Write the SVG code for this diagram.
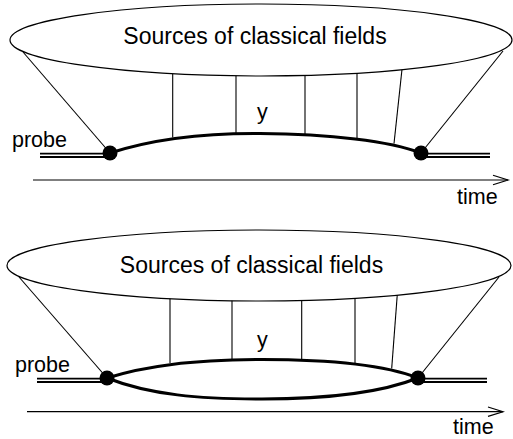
<svg xmlns="http://www.w3.org/2000/svg" width="513" height="439" viewBox="0 0 513 439">
  <style>
    .thin { stroke: #000; stroke-width: 1.1; fill: none; }
    .world { stroke: #000; stroke-width: 3; fill: none; }
    .src { stroke: #000; stroke-width: 1.2; fill: #fff; }
    .probeOut { stroke: #000; stroke-width: 5.2; fill: none; }
    .probeIn { stroke: #fff; stroke-width: 1.6; fill: none; }
    .axis { stroke: #000; stroke-width: 1.2; fill: none; }
    .vertex { fill: #000; }
    text { font-family: "Liberation Sans", Arial, sans-serif; fill: #000; }
    .title { font-size: 23px; text-anchor: middle; }
    .lbl { font-size: 21.5px; }
  </style>
  <defs>
    <marker id="openArrow" markerWidth="18" markerHeight="12" refX="16" refY="6" orient="auto" markerUnits="userSpaceOnUse">
      <path d="M1,1.3 L16,6 L1,10.7" fill="none" stroke="#000" stroke-width="1.2"/>
    </marker>
  </defs>

  <!-- Upper diagram: single probe line dressed by classical fields -->
  <g id="connectors-top">
    <line class="thin" x1="23" y1="52" x2="110" y2="153"/>
    <line class="thin" x1="503" y1="51" x2="421" y2="153"/>
    <line class="thin" x1="172.7" y1="60" x2="172.7" y2="137.5"/>
    <line class="thin" x1="236" y1="60" x2="236" y2="134.5"/>
    <line class="thin" x1="305" y1="60" x2="305" y2="134.5"/>
    <line class="thin" x1="357" y1="60" x2="357" y2="138.5"/>
    <line class="thin" x1="403" y1="60" x2="394" y2="143.5"/>
    <path class="world" d="M110,153 C150,140 200,133 260,133.5 C330,134 390,141 421,153"/>
    <line class="probeOut" x1="40" y1="155.3" x2="110" y2="155.3"/>
    <line class="probeIn" x1="40" y1="155.3" x2="110" y2="155.3"/>
    <line class="probeOut" x1="421" y1="155.3" x2="490" y2="155.3"/>
    <line class="probeIn" x1="421" y1="155.3" x2="490" y2="155.3"/>
    <line class="axis" x1="33" y1="180" x2="508" y2="180" marker-end="url(#openArrow)"/>
  </g>
  <g id="sources-top">
    <ellipse class="src" cx="261" cy="40" rx="251" ry="36"/>
    <text class="title" x="255" y="43.5">Sources of classical fields</text>
  </g>
  <g id="vertex-top-left"><circle class="vertex" cx="110" cy="153" r="7.5"/></g>
  <g id="vertex-top-right"><circle class="vertex" cx="421" cy="153" r="7.5"/></g>
  <g id="labels-top">
    <text class="lbl" x="12" y="147">probe</text>
    <text class="lbl" x="257" y="119">y</text>
    <text class="lbl" x="457" y="204">time</text>
  </g>

  <!-- Lower diagram: probe splits into two paths between the vertices -->
  <g id="connectors-bottom">
    <line class="thin" x1="19" y1="277" x2="107" y2="378"/>
    <line class="thin" x1="499" y1="277" x2="418" y2="378"/>
    <line class="thin" x1="170" y1="285" x2="170" y2="363"/>
    <line class="thin" x1="232" y1="285" x2="232" y2="360.5"/>
    <line class="thin" x1="301.7" y1="285" x2="301.7" y2="360"/>
    <line class="thin" x1="355" y1="285" x2="355" y2="364"/>
    <line class="thin" x1="398" y1="285" x2="391.7" y2="368.5"/>
    <path class="world" d="M107,378 C145,366 190,360 262,359.5 C330,359.5 385,365 418,378"/>
    <path class="world" d="M107,378 C150,395 200,399 262,399 C330,399 380,393 418,378"/>
    <line class="probeOut" x1="37" y1="380.3" x2="107" y2="380.3"/>
    <line class="probeIn" x1="37" y1="380.3" x2="107" y2="380.3"/>
    <line class="probeOut" x1="418" y1="380.3" x2="487" y2="380.3"/>
    <line class="probeIn" x1="418" y1="380.3" x2="487" y2="380.3"/>
    <line class="axis" x1="27" y1="411.7" x2="503" y2="411.7" marker-end="url(#openArrow)"/>
  </g>
  <g id="sources-bottom">
    <ellipse class="src" cx="259" cy="265.5" rx="252" ry="35.5"/>
    <text class="title" x="251.5" y="273">Sources of classical fields</text>
  </g>
  <g id="vertex-bottom-left"><circle class="vertex" cx="107" cy="378" r="7.5"/></g>
  <g id="vertex-bottom-right"><circle class="vertex" cx="418" cy="378" r="7.5"/></g>
  <g id="labels-bottom">
    <text class="lbl" x="15" y="371.5">probe</text>
    <text class="lbl" x="257" y="347">y</text>
    <text class="lbl" x="453" y="433.5">time</text>
  </g>
</svg>
